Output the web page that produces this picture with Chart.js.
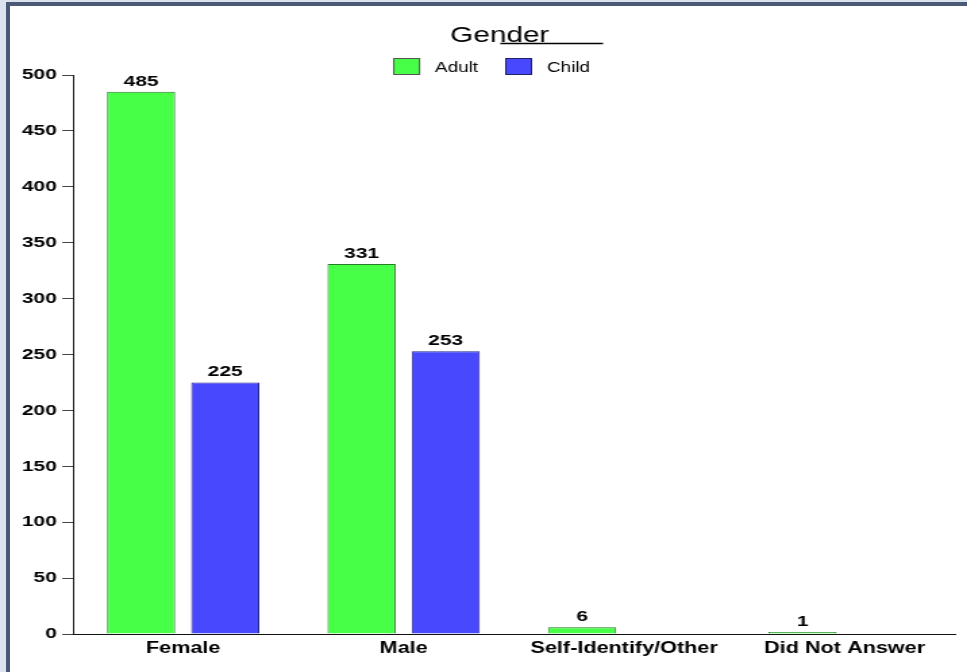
<!DOCTYPE html>
<html>
<head>
<meta charset="utf-8">
<title>Gender</title>
<script src="https://cdn.jsdelivr.net/npm/chart.js@4.4.1/dist/chart.umd.min.js"></script>
<style>
  html, body { margin: 0; padding: 0; }
  body {
    width: 967px; height: 672px; overflow: hidden; position: relative;
    background: #dbe3ee;
  }
  #frame {
    position: absolute; left: 6px; top: 2px; width: 980px; height: 700px;
    border-left: 4px solid #4b5a74; border-top: 4px solid #4b5a74;
    background: #fff;
  }
  /* the chart is drawn narrow and stretched out to the full width */
  #wrap {
    position: absolute; left: 0; top: 0; width: 716px; height: 672px;
    transform: scaleX(1.3506); transform-origin: 0 0;
  }
</style>
</head>
<body>
<div id="frame"></div>
<div id="wrap"><canvas id="genderChart" width="716" height="672"></canvas></div>
<script>
const titleText = "Gender";
const categories = ["Female", "Male", "Self-Identify/Other", "Did Not Answer"];
const adultValues = [485, 331, 6, 1];
const childValues = [225, 253, null, null];
const seriesNames = ["Adult", "Child"];
const yTicks = { min: 0, max: 500, step: 50 };

const FONT = '"Liberation Sans", Arial, sans-serif';

// title, the rule under it and the legend row
const headerPlugin = {
    id: 'header',
    afterDraw(chart) {
        const ctx = chart.ctx;
        ctx.save();
        ctx.fillStyle = '#000';
        ctx.font = '22px ' + FONT;
        ctx.textAlign = 'center';
        ctx.textBaseline = 'alphabetic';
        ctx.fillText(titleText, 370, 42);

        ctx.strokeStyle = '#000';
        ctx.lineWidth = 1.5;
        ctx.beginPath();
        ctx.moveTo(370.5, 43.5);
        ctx.lineTo(446.5, 43.5);
        ctx.stroke();

        // legend entries
        const boxW = 20, boxH = 17, gap = 11, spacing = 20;
        ctx.font = '14px ' + FONT;
        ctx.textAlign = 'left';
        const items = chart.data.datasets.map(ds => ({
            label: ds.label, fill: ds.backgroundColor, stroke: ds.legendBorder,
            w: ctx.measureText(ds.label).width
        }));
        let total = 0;
        items.forEach((it, i) => { total += boxW + gap + it.w + (i ? spacing : 0); });
        let x = 364 - total / 2;
        items.forEach(it => {
            ctx.fillStyle = it.fill;
            ctx.fillRect(x, 58, boxW, boxH);
            ctx.strokeStyle = it.stroke;
            ctx.lineWidth = 1;
            ctx.strokeRect(x + 0.5, 58.5, boxW - 1, boxH - 1);
            ctx.fillStyle = '#000';
            ctx.fillText(it.label, x + boxW + gap, 71.5);
            x += boxW + gap + it.w + spacing;
        });
        ctx.restore();
    }
};

// value printed over each bar
const valueLabels = {
    id: 'valueLabels',
    afterDatasetsDraw(chart) {
        const ctx = chart.ctx;
        ctx.save();
        ctx.font = 'bold 15.5px ' + FONT;
        ctx.fillStyle = '#000';
        ctx.textAlign = 'center';
        ctx.textBaseline = 'alphabetic';
        chart.data.datasets.forEach((ds, di) => {
            const meta = chart.getDatasetMeta(di);
            meta.data.forEach((bar, i) => {
                const v = ds.data[i];
                if (v === null || v === undefined) return;
                ctx.fillText(String(v), bar.x, bar.y - 6);
            });
        });
        ctx.restore();
    }
};

new Chart(document.getElementById('genderChart'), {
    type: 'bar',
    data: {
        labels: categories,
        datasets: [{
            label: seriesNames[0],
            data: adultValues,
            backgroundColor: '#48ff48',
            borderColor: '#267a26',
            legendBorder: '#555',
            borderWidth: 1
        }, {
            label: seriesNames[1],
            data: childValues,
            backgroundColor: '#4848ff',
            borderColor: '#24248a',
            legendBorder: '#222266',
            borderWidth: 1
        }]
    },
    options: {
        responsive: false,
        animation: false,
        layout: { padding: { top: 75, right: 9, bottom: 0, left: 0 } },
        datasets: {
            // tiny counts still get a visible sliver
            bar: { categoryPercentage: 0.7636, barPercentage: 0.8095, minBarLength: 2 }
        },
        plugins: {
            legend: { display: false },
            title: { display: false },
            tooltip: { enabled: false }
        },
        scales: {
            x: {
                grid: { display: false },
                border: { display: true, color: '#111', width: 1 },
                ticks: { color: '#000', padding: -3, font: { family: FONT, size: 16, weight: 'bold' } },
                afterFit(scale) { scale.height = 38; }
            },
            y: {
                min: yTicks.min,
                max: yTicks.max,
                grid: { drawOnChartArea: false, drawTicks: true, tickLength: 8, color: '#444' },
                border: { display: true, color: '#111', width: 1 },
                ticks: {
                    stepSize: yTicks.step,
                    color: '#000',
                    padding: 4,
                    font: { family: FONT, size: 15.5, weight: 'bold' }
                },
                afterFit(scale) { scale.width = 54; }
            }
        }
    },
    plugins: [valueLabels, headerPlugin]
});
</script>
</body>
</html>
